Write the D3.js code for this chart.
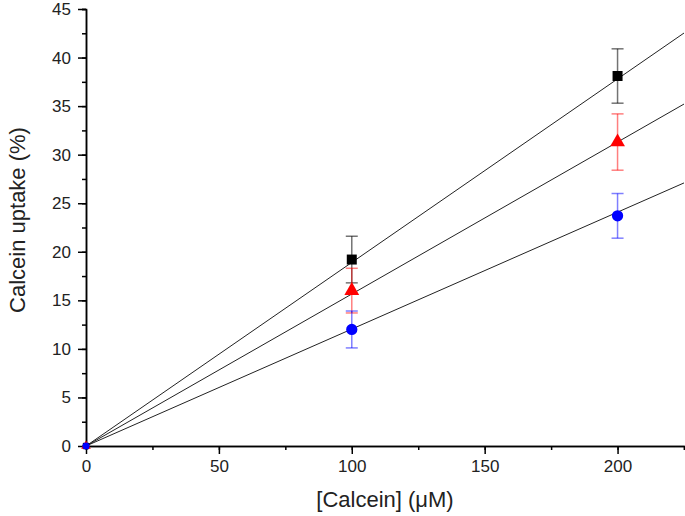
<!DOCTYPE html>
<head>
<meta charset="utf-8">
<script src="https://d3js.org/d3.v7.min.js"></script>
</head>
<style>
body { margin: 0; background: #fff; }
text { font-family: "Liberation Sans", Arial, sans-serif; }
.axis path, .axis line { stroke: #000; stroke-width: 1.5px; }
.axis text { font-size: 17px; fill: #222; }
.fit { fill: none; stroke: #222; stroke-width: 1px; }
</style>
<body>
<script>
// concentrations (uM)
var conc = [0, 100, 200];
// series values (%) and their errors
var blackVals = [0, 19.2, 38.1];
var blackErr = [0, 2.4, 2.8];
var redVals = [0, 16.0, 31.3];
var redErr = [0, 2.3, 2.9];
var blueVals = [0, 12.0, 23.7];
var blueErr = [0, 1.9, 2.3];
// slopes of fitted lines through the origin
var slopes = [0.189, 0.1565, 0.1204];
var xTicks = [0, 50, 100, 150, 200];
var yTicks = [0, 5, 10, 15, 20, 25, 30, 35, 40, 45];

var margin = {top: 9, right: 1, bottom: 70, left: 86},
    width = 685 - margin.left - margin.right,
    height = 516 - margin.top - margin.bottom;

var x = d3.scaleLinear().domain([0, 225]).range([0, width]);
var y = d3.scaleLinear().domain([0, 45]).range([height, 0]);

var svg = d3.select("body").append("svg")
    .attr("width", 685)
    .attr("height", 516)
  .append("g")
    .attr("transform", "translate(" + margin.left + "," + margin.top + ")");

// axes with minor ticks
svg.append("g")
    .attr("class", "axis")
    .attr("transform", "translate(0," + height + ")")
    .call(d3.axisBottom(x).tickValues(d3.range(0, 226, 25)).tickSize(4).tickFormat(""));
svg.append("g")
    .attr("class", "axis")
    .attr("transform", "translate(0," + height + ")")
    .call(d3.axisBottom(x).tickValues(xTicks).tickSize(8).tickPadding(6).tickSizeOuter(0));
svg.append("g")
    .attr("class", "axis")
    .call(d3.axisLeft(y).tickValues(d3.range(0, 45.1, 2.5)).tickSize(4).tickFormat(""));
svg.append("g")
    .attr("class", "axis")
    .call(d3.axisLeft(y).tickValues(yTicks).tickSize(8).tickPadding(7).tickSizeOuter(0));

// fitted lines
slopes.forEach(function(s) {
  svg.append("line")
      .attr("class", "fit")
      .attr("x1", x(0)).attr("y1", y(0))
      .attr("x2", x(225)).attr("y2", y(s * 225));
});

var series = [
  {vals: blackVals, err: blackErr, color: "#000", errColor: "rgba(0,0,0,0.55)", shape: d3.symbolSquare, size: 100},
  {vals: redVals, err: redErr, color: "#f00", errColor: "rgba(255,0,0,0.5)", shape: d3.symbolTriangle, size: 95},
  {vals: blueVals, err: blueErr, color: "#00f", errColor: "rgba(0,0,255,0.5)", shape: d3.symbolCircle, size: 100}
];

series.forEach(function(s) {
  var g = svg.append("g");
  conc.forEach(function(c, i) {
    if (s.err[i] > 0) {
      var lo = y(s.vals[i] - s.err[i]), hi = y(s.vals[i] + s.err[i]), cx = x(c);
      g.append("line").attr("x1", cx).attr("x2", cx).attr("y1", lo).attr("y2", hi)
          .attr("stroke", s.errColor).attr("stroke-width", 1.5);
      [lo, hi].forEach(function(yy) {
        g.append("line").attr("x1", cx - 6).attr("x2", cx + 6).attr("y1", yy).attr("y2", yy)
            .attr("stroke", s.errColor).attr("stroke-width", 1.5);
      });
    }
  });
  g.selectAll("path.pt")
      .data(conc)
    .enter().append("path")
      .attr("class", "pt")
      .attr("d", function(c, i) { return d3.symbol().type(s.shape).size(i === 0 ? 40 : s.size)(); })
      .attr("transform", function(c, i) { return "translate(" + x(c) + "," + y(s.vals[i]) + ")"; })
      .attr("fill", s.color);
});

// axis titles
svg.append("text")
    .attr("x", width / 2)
    .attr("y", height + 61)
    .attr("text-anchor", "middle")
    .style("font-size", "22px")
    .style("fill", "#222")
    .text("[Calcein] (\u03bcM)");
svg.append("text")
    .attr("transform", "rotate(-90)")
    .attr("x", -(220 - margin.top))
    .attr("y", -61)
    .attr("text-anchor", "middle")
    .style("font-size", "22px")
    .style("fill", "#222")
    .text("Calcein uptake (%)");
</script>
</body>
